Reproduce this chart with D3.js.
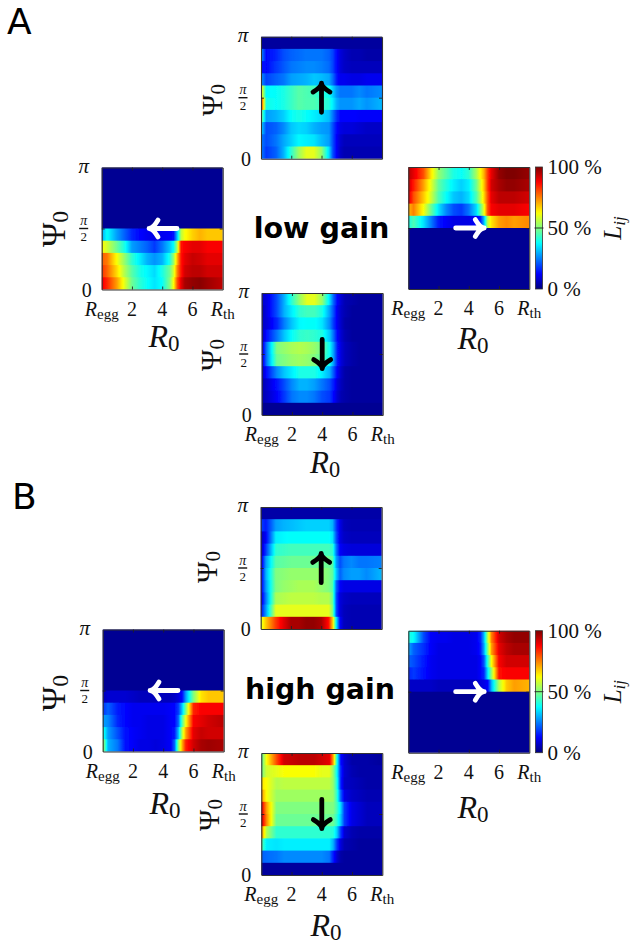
<!DOCTYPE html>
<html><head><meta charset="utf-8">
<script src="https://cdn.jsdelivr.net/npm/d3@7"></script>
<style>html,body{margin:0;padding:0;background:#fff}svg{display:block}</style></head>
<body><svg id="c" width="632" height="945"></svg>
<script>
// R0 positions at which each heat-map row was read
const r0Knots = [0.05,0.35,1,1.5,2,2.5,3,3.5,4,4.5,4.75,5,5.25,5.5,6,6.5,7,7.9];
const N = [2,2,2,2,2,2,2,2,2,2,2,2,2,2,2,2,2,2]; // navy row (Lij ~ 0)
// rows listed from Psi0 = pi (top) to Psi0 = 0 (bottom), values in %
const lowTop = [
 [3,3,3,3,3,3,3,3,3,3,3,3,3,3,3,3,3,3],
 [25,13,16,20,22,23,24,24,24,22,19,13,9,7,5,5,4,4],
 [14,13,18,21,24,25,26,26,25,23,19,13,9,7,6,6,6,6],
 [26,19,22,24,28,29,30,32,31,29,23,15,11,11,10,10,11,11],
 [62,37,38,40,43,46,45,44,41,39,33,27,24,24,24,26,24,26],
 [80,40,38,40,43,46,45,45,43,41,36,30,27,27,27,29,27,30],
 [48,28,30,33,38,40,38,36,34,31,24,17,13,13,13,12,12,12],
 [32,20,22,26,32,34,33,30,28,27,20,13,10,9,9,8,7,7],
 [24,20,24,29,33,37,36,35,31,28,20,12,8,6,6,6,6,6],
 [24,18,22,30,42,53,60,60,52,34,20,12,7,5,5,5,5,5]];
const lowLeft = [N,N,N,N,N,
 [30,38,28,22,16,13,11,10,11,12,14,32,56,62,67,70,68,68],
 [62,58,48,40,28,25,22,18,24,32,38,55,86,88,90,90,88,88],
 [78,76,62,52,42,36,30,27,30,40,52,70,86,90,93,92,90,90],
 [82,78,66,55,46,40,37,34,40,48,58,75,86,92,94,94,92,92],
 [88,84,72,60,48,42,38,35,38,50,62,80,90,96,98,99,97,94]];
const lowRight = [
 [94,90,80,65,52,46,40,38,42,54,62,70,82,90,98,100,100,98],
 [92,85,72,60,47,41,36,33,36,48,58,68,82,92,96,98,98,96],
 [90,80,68,58,45,38,32,30,34,45,55,66,80,90,94,94,94,92],
 [70,75,62,48,35,26,20,18,24,34,46,60,80,88,90,90,90,88],
 [40,45,35,25,15,12,10,10,10,12,14,30,56,65,72,74,72,74],
 N,N,N,N,N];
const lowBottom = [
 [8,10,20,30,42,52,60,60,52,34,22,13,8,5,4,3,3,3],
 [6,10,20,30,36,42,44,44,40,28,20,11,7,5,3,3,3,3],
 [7,9,16,25,32,37,38,38,35,26,18,11,7,4,3,3,3,3],
 [7,14,24,32,38,42,43,42,40,32,23,13,8,5,3,3,3,3],
 [10,25,50,52,54,55,54,52,48,38,28,15,9,6,4,3,3,3],
 [10,25,48,50,52,53,52,50,46,38,28,15,9,6,4,3,3,3],
 [7,14,26,32,36,40,40,40,36,30,21,12,7,4,3,3,3,3],
 [5,8,14,20,26,30,30,28,24,20,15,9,6,4,3,3,3,3],
 [5,7,12,18,24,26,26,24,20,18,13,8,5,4,3,3,3,3],
 N];
const highTop = [
 [4,4,4,4,4,4,4,4,4,4,4,4,4,4,4,4,4,4],
 [18,15,28,30,31,32,33,33,33,33,30,18,10,6,5,5,5,5],
 [7,12,36,37,38,38,38,38,38,38,35,20,10,7,6,6,6,6],
 [7,18,42,43,44,44,44,44,44,44,42,24,12,10,9,9,9,9],
 [10,28,46,47,48,48,48,48,48,48,46,28,20,24,26,24,24,25],
 [12,30,50,51,52,52,52,52,52,50,47,32,22,26,28,28,26,30],
 [12,28,50,52,53,54,54,54,52,50,46,22,12,10,10,10,10,10],
 [10,25,54,55,56,56,56,56,55,55,48,20,9,7,6,6,6,6],
 [14,28,60,60,60,60,60,60,60,60,50,20,9,6,5,5,5,5],
 [60,68,82,90,96,96,98,98,96,86,68,36,12,6,5,5,5,5]];
const highLeft = [N,N,N,N,N,
 [6,8,8,8,7,6,6,6,6,6,7,9,13,28,50,65,68,68],
 [18,22,15,13,11,11,11,11,11,12,13,18,32,50,84,88,88,88],
 [28,26,16,13,11,11,10,10,10,12,13,22,45,62,88,90,92,94],
 [40,28,20,14,12,11,10,10,10,12,15,30,55,72,90,93,92,92],
 [52,30,24,14,12,10,10,9,10,12,22,50,70,85,92,96,97,96]];
const highRight = [
 [40,38,20,12,11,11,10,10,10,11,15,30,55,75,92,96,98,98],
 [28,22,17,12,10,10,10,10,10,11,14,28,50,72,90,94,96,96],
 [22,20,15,11,10,10,10,10,10,10,12,20,42,62,88,92,92,92],
 [16,18,14,11,10,10,10,10,10,10,12,16,35,52,86,88,88,88],
 [7,7,7,7,6,6,6,6,6,7,9,10,12,30,55,68,72,70],
 N,N,N,N,N];
const highBottom = [
 [48,62,80,92,93,94,94,94,92,90,72,40,14,8,4,4,4,3],
 [50,58,60,62,62,62,62,62,60,60,52,38,16,8,5,4,4,4],
 [65,62,55,56,56,56,56,56,56,56,52,40,16,7,6,5,4,4],
 [72,62,53,53,53,53,53,53,53,53,52,42,22,10,7,6,5,5],
 [88,72,50,50,50,50,50,50,50,50,50,44,34,18,10,8,6,6],
 [90,74,48,48,48,48,48,48,48,48,48,42,32,18,10,8,6,6],
 [72,55,42,42,42,42,42,42,42,42,41,33,18,8,5,4,4,4],
 [45,36,35,36,36,36,36,36,36,36,30,18,9,5,4,3,3,3],
 [22,23,24,26,26,26,26,26,26,24,15,8,4,3,3,3,3,3],
 [3,3,3,3,3,3,3,3,3,3,3,3,3,3,3,3,3,3]];
const r0TickValues = [0,2,4,6,8];
const r0TickNames = ["Regg","2","4","6","Rth"];
const cbarTicks = [0,50,100];
const cbarNames = ["0 %","50 %","100 %"];
const headings = ["low gain","high gain"];
const panelLetters = ["A","B"];

const svg = d3.select("#c");
const defs = svg.append("defs");
const jet = d3.scaleLinear()
  .domain([0,12.5,37.5,50,62.5,87.5,100])
  .range(["#00007f","#0000ff","#00ffff","#80ff80","#ffff00","#ff0000","#7f0000"])
  .clamp(true);
const serif = "'Liberation Serif','DejaVu Serif',serif";
defs.append("filter").attr("id","soft").attr("x","-5%").attr("y","-5%").attr("width","110%").attr("height","110%")
  .append("feGaussianBlur").attr("stdDeviation","0.75");

let uid = 0;
function sub(sel, main, subT, subSize, dy){
  sel.append("tspan").attr("font-style","italic").text(main);
  sel.append("tspan").attr("font-size",subSize).attr("dy",dy).text(subT);
}
function psiLabel(g, x, y, size){
  const t = g.append("text").attr("transform",`translate(${x},${y}) rotate(-90)`)
    .attr("text-anchor","middle").attr("font-family",serif).attr("font-size",size).attr("fill","#111");
  t.append("tspan").text("Ψ");
  t.append("tspan").attr("font-size",size*0.72).attr("dy",size*0.1).text("0");
}
function r0Label(x, y, size){
  const t = svg.append("text").attr("x",x).attr("y",y).attr("text-anchor","middle")
    .attr("font-family",serif).attr("font-size",size).attr("fill","#111");
  t.append("tspan").attr("font-style","italic").text("R");
  t.append("tspan").attr("font-size",size*0.72).attr("dy",size*0.12).text("0");
}
function panel(o){
  const w = o.w||121, h = o.h||122;
  const x = d3.scaleLinear().domain([0,8]).range([0,w]);
  const y = d3.scaleLinear().domain([0,Math.PI]).range([h,0]);
  const rowBand = d3.scaleBand().domain(d3.range(10)).range([0,h]);
  const g = svg.append("g").attr("transform",`translate(${o.x},${o.y})`);
  const cid = "clip"+(++uid);
  defs.append("clipPath").attr("id",cid).append("rect").attr("width",w).attr("height",h);
  const heat = g.append("g").attr("clip-path",`url(#${cid})`).append("g").attr("filter","url(#soft)");
  o.data.forEach((row,i)=>{
    const id = "g"+uid+"_"+i;
    const lg = defs.append("linearGradient").attr("id",id).attr("gradientUnits","userSpaceOnUse")
      .attr("x1",x(0)).attr("x2",x(8)).attr("y1",0).attr("y2",0);
    const val = d3.scaleLinear().domain(r0Knots).range(row);
    r0Knots.forEach((k,j)=>{
      const next = j<r0Knots.length-1 ? r0Knots[j+1] : k;
      const n = j<r0Knots.length-1 ? 6 : 1;
      for(let s=0;s<n;s++){
        const r = k+(next-k)*s/n;
        lg.append("stop").attr("offset",x(r)/w).attr("stop-color",jet(val(r)));
      }
    });
    const top = i===0 ? -4 : rowBand(i);
    const bot = i===9 ? h+4 : rowBand(i)+rowBand.bandwidth()+1;
    heat.append("rect").attr("x",-4).attr("width",w+8).attr("y",top).attr("height",bot-top)
      .attr("fill",`url(#${id})`);
  });
  const axes = [
    [d3.axisBottom(x).tickValues([2,4,6]).tickSizeInner(-3),`translate(0,${h})`],
    [d3.axisTop(x).tickValues([2,4,6]).tickSizeInner(-3),`translate(0,0)`],
    [d3.axisLeft(y).tickValues([Math.PI/2]).tickSizeInner(-3),`translate(0,0)`],
    [d3.axisRight(y).tickValues([Math.PI/2]).tickSizeInner(-3),`translate(${w},0)`]
  ];
  axes.forEach(([a,tr])=>{
    const ag = g.append("g").attr("transform",tr).call(a.tickSizeOuter(0).tickFormat(""));
    ag.selectAll("path").attr("stroke","#333").attr("stroke-width",1.1);
    ag.selectAll("line").attr("stroke","#222").attr("stroke-width",0.9);
  });
  // y tick labels
  if(o.yLabels){
    const lx = -o.yLabelDx;
    const tx = g.append("g").attr("font-family",serif).attr("fill","#111").attr("text-anchor","middle");
    tx.append("text").attr("x",lx).attr("y",y(Math.PI)+5).attr("font-size",21).attr("font-style","italic").text("π");
    tx.append("text").attr("x",lx+3).attr("y",y(0)+7).attr("font-size",20).text("0");
    tx.append("text").attr("x",lx).attr("y",y(Math.PI/2)-3.5).attr("font-size",14).attr("font-style","italic").text("π");
    tx.append("line").attr("x1",lx-4.5).attr("x2",lx+4.5).attr("y1",y(Math.PI/2)).attr("y2",y(Math.PI/2))
      .attr("stroke","#111").attr("stroke-width",1.4);
    tx.append("text").attr("x",lx).attr("y",y(Math.PI/2)+12.5).attr("font-size",13).text("2");
  }
  // x tick labels
  if(o.xLabels){
    const tg = g.append("g").attr("font-family",serif).attr("fill","#111").attr("text-anchor","middle").attr("font-size",20);
    r0TickValues.forEach((v,i)=>{
      const t = tg.append("text").attr("x",x(v)).attr("y",h+26);
      const nm = r0TickNames[i];
      if(nm==="Regg") sub(t,"R","egg",15,3);
      else if(nm==="Rth") sub(t,"R","th",15,3);
      else t.text(nm);
    });
  }
  // direction arrow
  if(o.arrow){
    const [r1,p1,r2,p2] = o.arrow;
    const x1=x(r1), y1=y(p1*Math.PI), x2=x(r2), y2=y(p2*Math.PI);
    const a = Math.atan2(y2-y1,x2-x1);
    const wing=(s)=>[x2-9*Math.cos(a)-s*8.5*Math.sin(a), y2-9*Math.sin(a)+s*8.5*Math.cos(a)];
    const [ax,ay]=wing(1), [bx,by]=wing(-1);
    const ap = d3.path();
    ap.moveTo(x1,y1); ap.lineTo(x2,y2);
    ap.moveTo(ax,ay); ap.quadraticCurveTo(x2-4*Math.cos(a),y2-4*Math.sin(a),x2,y2);
    ap.quadraticCurveTo(x2-4*Math.cos(a),y2-4*Math.sin(a),bx,by);
    g.append("path").attr("d",ap.toString()).attr("fill","none").attr("stroke",o.arrowColor)
      .attr("stroke-width",4.8).attr("stroke-linecap","round").attr("stroke-linejoin","round");
  }
}
function colorbar(px,py,w,h){
  const yc = d3.scaleLinear().domain([0,100]).range([h,0]);
  const g = svg.append("g").attr("transform",`translate(${px},${py})`);
  const id = "cb"+(++uid);
  const lg = defs.append("linearGradient").attr("id",id).attr("x1",0).attr("x2",0).attr("y1",1).attr("y2",0);
  d3.range(0,101,2).forEach(v=>lg.append("stop").attr("offset",v/100).attr("stop-color",jet(v)));
  g.append("rect").attr("width",w).attr("height",h).attr("fill",`url(#${id})`).attr("stroke","#333").attr("stroke-width",0.8);
  const tg = g.append("g").attr("font-family",serif).attr("fill","#111").attr("font-size",21);
  cbarTicks.forEach((v,i)=>{
    tg.append("text").attr("x",w+5).attr("y",yc(v)+7).text(cbarNames[i]);
    if(v===50) g.append("line").attr("x1",-1).attr("x2",w+1).attr("y1",yc(v)).attr("y2",yc(v)).attr("stroke","#222").attr("stroke-width",0.9);
  });
  const t = g.append("text").attr("transform",`translate(${w+78},${h/2}) rotate(-90)`).attr("text-anchor","middle")
    .attr("font-family",serif).attr("font-size",25).attr("fill","#111");
  t.append("tspan").attr("font-style","italic").text("L");
  t.append("tspan").attr("font-size",17).attr("dy",4).attr("font-style","italic").text("ij");
}

// ---- panel A
panel({x:261,y:36.7,h:122,data:lowTop,yLabels:true,yLabelDx:18,arrow:[4,.38,4,.62],arrowColor:"#000"});
panel({x:101.7,y:167.5,data:lowLeft,yLabels:true,yLabelDx:18,xLabels:true,arrow:[4.98,.5,3.13,.5],arrowColor:"#fff"});
panel({x:408.3,y:167,data:lowRight,xLabels:true,arrow:[3.13,.5,5.02,.5],arrowColor:"#fff"});
panel({x:261.7,y:293,h:122,data:lowBottom,yLabels:true,yLabelDx:18,xLabels:true,arrow:[4,.62,4,.38],arrowColor:"#000"});
// ---- panel B
panel({x:260.7,y:507,data:highTop,yLabels:true,yLabelDx:18,arrow:[4,.38,4,.62],arrowColor:"#000"});
panel({x:102.7,y:629.5,data:highLeft,yLabels:true,yLabelDx:18,xLabels:true,arrow:[4.98,.5,3.13,.5],arrowColor:"#fff"});
panel({x:408.3,y:630.7,data:highRight,xLabels:true,arrow:[3.13,.5,5.02,.5],arrowColor:"#fff"});
panel({x:261.3,y:753,data:highBottom,yLabels:true,yLabelDx:18,xLabels:true,arrow:[4,.62,4,.38],arrowColor:"#000"});
colorbar(535.5,167,7,122);
colorbar(535.5,630.7,7,122);

psiLabel(svg,222,100,29);
psiLabel(svg,65,229,33);
psiLabel(svg,221,355,29);
psiLabel(svg,217,567,29);
psiLabel(svg,65,693,33);
psiLabel(svg,219,815,29);

r0Label(164,347,32);
r0Label(473,349,32);
r0Label(325,473,31);
r0Label(165,814,32);
r0Label(473,818,32);
r0Label(326,936,32);

const sans = "'DejaVu Sans',sans-serif";
svg.append("text").attr("x",321.5).attr("y",237.5).attr("text-anchor","middle").attr("font-family",sans)
  .attr("font-weight","bold").attr("font-size",28.6).attr("fill","#000").text(headings[0]);
svg.append("text").attr("x",320).attr("y",698.5).attr("text-anchor","middle").attr("font-family",sans)
  .attr("font-weight","bold").attr("font-size",28.4).attr("fill","#000").text(headings[1]);
svg.append("text").attr("x",7).attr("y",33.5).attr("font-family",sans).attr("font-size",36).attr("fill","#000").text(panelLetters[0]);
svg.append("text").attr("x",12).attr("y",509).attr("font-family",sans).attr("font-size",36).attr("fill","#000").text(panelLetters[1]);
</script></body></html>
